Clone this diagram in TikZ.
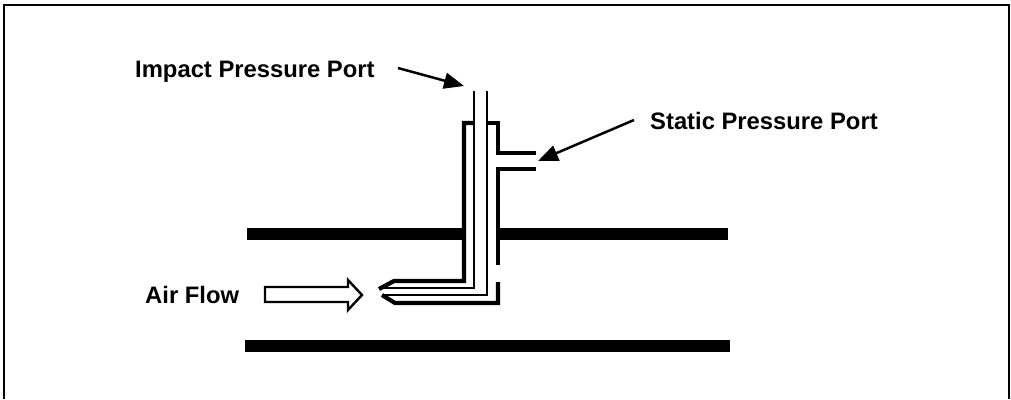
\documentclass[tikz,border=0pt]{standalone}
\usepackage{fontspec}
\setmainfont{Liberation Sans}
\usetikzlibrary{arrows.meta}
\tikzset{
  x=1pt,y=-1pt,
  lbl/.style={font=\fontsize{23.8}{26}\selectfont\bfseries,inner sep=0pt,anchor=base west},
  duct/.style={line width=12pt,line cap=butt},
  wall/.style={line width=4.2pt,line join=miter},
  thin tube/.style={line width=2.8pt,line join=miter},
  pointer/.style={line width=2.5pt,-{Triangle[length=20pt,width=16pt]}},
  flow/.style={line width=2.4pt,fill=white,line join=miter},
  frame/.style={line width=2.4pt}
}
\begin{document}
\begin{tikzpicture}
\useasboundingbox (0,0) rectangle (1011,399);
% frame
\draw[frame] (4,399) -- (4,5) -- (1009,5) -- (1009,399);
% ducts
\draw[duct] (247,234) -- (462,234);
\draw[duct] (499,234) -- (728,234);
\draw[duct] (245,346) -- (730,346);
% tube walls
\draw[wall] (474,123) -- (464,123) -- (464,281) -- (394,281) -- (379,289);
\draw[thin tube] (474,91) -- (474,288) -- (381,288);
\draw[thin tube] (487,91) -- (487,295) -- (383,295);
\draw[wall] (487,123) -- (498,123) -- (498,153) -- (536,153);
\draw[wall] (536,169) -- (498,169) -- (498,265);
\draw[wall] (498,282) -- (498,303) -- (395,303) -- (382,295);
% flow arrow
\draw[flow] (265,287) -- (348,287) -- (348,280) -- (362,295) -- (348,310) -- (348,302) -- (265,302) -- cycle;
% labels
\node[lbl] (impact) at (135,77) {Impact Pressure Port};
\node[lbl] (static) at (650,129) {Static Pressure Port};
\node[lbl] (air) at (145,303) {Air Flow};
% pointers
\coordinate (a1) at (398,68);
\coordinate (a2) at (464,86);
\coordinate (b1) at (634,120);
\coordinate (b2) at (538,161);
\draw[pointer] (a1) -- (a2);
\draw[pointer] (b1) -- (b2);
\end{tikzpicture}
\end{document}
